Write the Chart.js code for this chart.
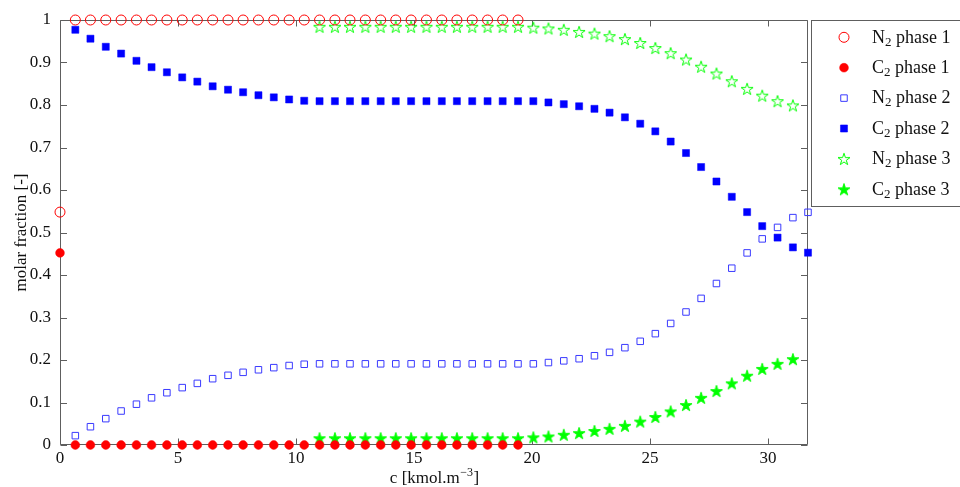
<!DOCTYPE html>
<html>
<head>
<meta charset="utf-8">
<script src="https://cdn.jsdelivr.net/npm/chart.js@4/dist/chart.umd.min.js"></script>
<style>
  html, body { margin: 0; padding: 0; background: #ffffff; }
  #wrap { width: 960px; height: 487px; position: relative; }
</style>
</head>
<body>
<div id="wrap"><canvas id="chart" width="960" height="487"></canvas></div>
<script>
// Total concentration c [kmol/m3] at each computed state
const conc = [0, 0.65, 1.29, 1.94, 2.59, 3.24, 3.88, 4.53, 5.18, 5.82,
  6.47, 7.12, 7.76, 8.41, 9.06, 9.71, 10.35, 11.0, 11.65, 12.29,
  12.94, 13.59, 14.23, 14.88, 15.53, 16.18, 16.82, 17.47, 18.12, 18.76,
  19.41, 20.06, 20.7, 21.35, 22.0, 22.65, 23.29, 23.94, 24.59, 25.23,
  25.88, 26.53, 27.17, 27.82, 28.47, 29.12, 29.76, 30.41, 31.06, 31.7];

const seriesLabels = ['N₂ phase 1', 'C₂ phase 1', 'N₂ phase 2', 'C₂ phase 2', 'N₂ phase 3', 'C₂ phase 3'];

// Molar fractions per phase (null where the phase does not exist)
const n2Phase1 = [0.548, 1, 1, 1, 1, 1, 1, 1, 1, 1,
  1, 1, 1, 1, 1, 1, 1, 1, 1, 1,
  1, 1, 1, 1, 1, 1, 1, 1, 1, 1,
  1, null, null, null, null, null, null, null, null, null,
  null, null, null, null, null, null, null, null, null, null];
const c2Phase1 = [0.452, 0, 0, 0, 0, 0, 0, 0, 0, 0,
  0, 0, 0, 0, 0, 0, 0, 0, 0, 0,
  0, 0, 0, 0, 0, 0, 0, 0, 0, 0,
  0, null, null, null, null, null, null, null, null, null,
  null, null, null, null, null, null, null, null, null, null];
const n2Phase2 = [null, 0.022, 0.043, 0.062, 0.080, 0.096, 0.111, 0.123, 0.135, 0.145,
  0.156, 0.164, 0.171, 0.177, 0.182, 0.187, 0.190, 0.191, 0.191, 0.191,
  0.191, 0.191, 0.191, 0.191, 0.191, 0.191, 0.191, 0.191, 0.191, 0.191,
  0.191, 0.191, 0.194, 0.198, 0.203, 0.210, 0.218, 0.229, 0.244, 0.262,
  0.286, 0.313, 0.345, 0.380, 0.416, 0.452, 0.485, 0.512, 0.535, 0.5475];
const c2Phase2 = [null, 0.977, 0.956, 0.937, 0.921, 0.904, 0.889, 0.877, 0.865, 0.855,
  0.844, 0.836, 0.830, 0.823, 0.818, 0.813, 0.810, 0.809, 0.809, 0.809,
  0.809, 0.809, 0.809, 0.809, 0.809, 0.809, 0.809, 0.809, 0.809, 0.809,
  0.809, 0.809, 0.806, 0.802, 0.797, 0.791, 0.782, 0.771, 0.756, 0.738,
  0.714, 0.687, 0.654, 0.620, 0.584, 0.548, 0.515, 0.488, 0.465, 0.4525];
const n2Phase3 = [null, null, null, null, null, null, null, null, null, null,
  null, null, null, null, null, null, null, 0.984, 0.984, 0.984,
  0.984, 0.984, 0.984, 0.984, 0.984, 0.984, 0.984, 0.984, 0.984, 0.984,
  0.984, 0.982, 0.980, 0.977, 0.972, 0.968, 0.962, 0.955, 0.946, 0.934,
  0.922, 0.907, 0.890, 0.874, 0.856, 0.838, 0.822, 0.809, 0.799, null];
const c2Phase3 = [null, null, null, null, null, null, null, null, null, null,
  null, null, null, null, null, null, null, 0.016, 0.016, 0.016,
  0.016, 0.016, 0.016, 0.016, 0.016, 0.016, 0.016, 0.016, 0.016, 0.016,
  0.016, 0.018, 0.020, 0.024, 0.028, 0.033, 0.038, 0.045, 0.055, 0.066,
  0.079, 0.094, 0.111, 0.127, 0.145, 0.163, 0.179, 0.191, 0.202, null];

const xTicks = [0, 5, 10, 15, 20, 25, 30];
const yTicks = [0, 0.1, 0.2, 0.3, 0.4, 0.5, 0.6, 0.7, 0.8, 0.9, 1];

const SERIF = '"Liberation Serif", "DejaVu Serif", serif';
const FRAME = '#5e5e5e';
const RED = '#ff0000', BLUE = '#0000ff', GREEN = '#00ff00';

// Five-pointed star markers (outline and filled)
function starMarker(filled) {
  const s = 16;
  const cv = document.createElement('canvas');
  cv.width = s; cv.height = s;
  const g = cv.getContext('2d');
  const R = 6.3, r = R * 0.382, cx = s / 2, cy = s / 2 + 0.6;
  g.beginPath();
  for (let i = 0; i < 10; i++) {
    const a = -Math.PI / 2 + i * Math.PI / 5;
    const rad = i % 2 ? r : R;
    g.lineTo(cx + rad * Math.cos(a), cy + rad * Math.sin(a));
  }
  g.closePath();
  g.strokeStyle = GREEN;
  g.lineWidth = 1;
  if (filled) { g.fillStyle = GREEN; g.fill(); }
  g.stroke();
  return cv;
}

function points(values) {
  const out = [];
  values.forEach((v, i) => { if (v !== null) out.push({ x: conc[i], y: v }); });
  return out;
}

const markerStyles = [
  { pointStyle: 'circle', pointRadius: 5, borderColor: RED, backgroundColor: 'rgba(0,0,0,0)', borderWidth: 1 },
  { pointStyle: 'circle', pointRadius: 4.4, borderColor: RED, backgroundColor: RED, borderWidth: 0.5 },
  { pointStyle: 'rect', pointRadius: 4.6, borderColor: '#3a3aff', backgroundColor: 'rgba(0,0,0,0)', borderWidth: 1 },
  { pointStyle: 'rect', pointRadius: 5, borderColor: BLUE, backgroundColor: BLUE, borderWidth: 0.5 },
  { pointStyle: starMarker(false), pointRadius: 6, borderColor: GREEN, backgroundColor: 'rgba(0,0,0,0)', borderWidth: 0 },
  { pointStyle: starMarker(true), pointRadius: 6, borderColor: GREEN, backgroundColor: GREEN, borderWidth: 0 }
];

const seriesValues = [n2Phase1, c2Phase1, n2Phase2, c2Phase2, n2Phase3, c2Phase3];

const datasets = seriesValues.map((vals, i) => Object.assign({
  label: seriesLabels[i],
  data: points(vals),
  showLine: false,
  clip: false,
  pointHoverRadius: markerStyles[i].pointRadius
}, markerStyles[i]));

// Draws "X₂ rest" with a lowered, smaller subscript
function drawSubscripted(ctx, text, x, y, size, align) {
  const parts = text.split('₂');
  ctx.textBaseline = 'alphabetic';
  ctx.textAlign = 'left';
  const big = size + 'px ' + SERIF, small = Math.round(size * 0.7) + 'px ' + SERIF;
  ctx.font = big; const w1 = ctx.measureText(parts[0]).width;
  const w3 = parts.length > 1 ? ctx.measureText(parts[1]).width : 0;
  ctx.font = small; const w2 = parts.length > 1 ? ctx.measureText('2').width : 0;
  let x0 = x;
  if (align === 'center') x0 = x - (w1 + w2 + w3) / 2;
  ctx.font = big; ctx.fillText(parts[0], x0, y);
  if (parts.length > 1) {
    ctx.font = small; ctx.fillText('2', x0 + w1, y + 3);
    ctx.font = big; ctx.fillText(parts[1], x0 + w1 + w2, y);
  }
}

// Box frame with inward tick marks on all four sides
const frameAndTicks = {
  id: 'frameAndTicks',
  beforeDatasetsDraw(chart) {
    const { ctx, chartArea: a, scales } = chart;
    const L = Math.round(a.left) + 0.5, R = Math.round(a.right) - 0.5;
    const T = Math.round(a.top) + 0.5, B = Math.round(a.bottom) - 0.5;
    ctx.save();
    ctx.strokeStyle = FRAME;
    ctx.lineWidth = 1;
    ctx.beginPath();
    ctx.rect(L, T, R - L, B - T);
    xTicks.forEach(v => {
      const px = Math.round(scales.x.getPixelForValue(v)) + 0.5;
      ctx.moveTo(px, B); ctx.lineTo(px, B - 6);
      ctx.moveTo(px, T); ctx.lineTo(px, T + 6);
    });
    yTicks.forEach(v => {
      const py = Math.round(scales.y.getPixelForValue(v)) + 0.5;
      ctx.moveTo(L, py); ctx.lineTo(L + 6.5, py);
      ctx.moveTo(R, py); ctx.lineTo(R - 6.5, py);
    });
    ctx.stroke();
    ctx.restore();
  },
  afterDraw(chart) {
    const { ctx, chartArea: a } = chart;
    ctx.save();
    ctx.fillStyle = '#111111';
    // x axis title with superscript exponent
    const size = 17;
    const main = 'c [kmol.m', sup = '−3', tail = ']';
    ctx.font = size + 'px ' + SERIF;
    const w1 = ctx.measureText(main).width, w3 = ctx.measureText(tail).width;
    ctx.font = '12px ' + SERIF;
    const w2 = ctx.measureText(sup).width;
    let x0 = (a.left + a.right) / 2 - (w1 + w2 + w3) / 2;
    const base = 483;
    ctx.textBaseline = 'alphabetic'; ctx.textAlign = 'left';
    ctx.font = size + 'px ' + SERIF; ctx.fillText(main, x0, base);
    ctx.font = '12px ' + SERIF; ctx.fillText(sup, x0 + w1 + 0.5, base - 7);
    ctx.font = size + 'px ' + SERIF; ctx.fillText(tail, x0 + w1 + w2 + 1, base);
    // y axis title
    ctx.translate(25.5, (a.top + a.bottom) / 2);
    ctx.rotate(-Math.PI / 2);
    ctx.textAlign = 'center';
    ctx.fillText('molar fraction [-]', 0, 0);
    ctx.restore();

    // legend box
    ctx.save();
    ctx.strokeStyle = FRAME;
    ctx.lineWidth = 1;
    ctx.fillStyle = '#ffffff';
    ctx.fillRect(812, 21, 148, 186);
    ctx.strokeRect(811.5, 20.5, 160, 186);
    chart.data.datasets.forEach((ds, i) => {
      const cy = 37.3 + i * 30.4;
      ctx.fillStyle = ds.backgroundColor;
      ctx.strokeStyle = ds.borderColor;
      ctx.lineWidth = ds.borderWidth;
      Chart.helpers.drawPoint(ctx, {
        pointStyle: ds.pointStyle,
        radius: ds.pointRadius,
        rotation: 0,
        borderWidth: ds.borderWidth
      }, 844, cy);
      ctx.fillStyle = '#111111';
      drawSubscripted(ctx, ds.label, 872, cy + 5.3, 18, 'left');
    });
    ctx.restore();
  }
};

Chart.defaults.font.family = SERIF;

new Chart(document.getElementById('chart'), {
  type: 'scatter',
  data: { datasets },
  options: {
    responsive: false,
    animation: false,
    events: [],
    layout: { padding: { left: 0, right: 152, top: 20, bottom: 0 } },
    plugins: { legend: { display: false }, tooltip: { enabled: false } },
    scales: {
      x: {
        type: 'linear',
        min: 0,
        max: 31.7,
        afterBuildTicks: s => { s.ticks = xTicks.map(v => ({ value: v })); },
        afterFit: s => { s.height = 42; },
        grid: { display: false, drawTicks: false },
        border: { display: false },
        ticks: {
          font: { family: SERIF, size: 17 },
          color: '#111111',
          padding: 3,
          maxRotation: 0,
          autoSkip: false,
          callback: v => String(v)
        }
      },
      y: {
        type: 'linear',
        min: 0,
        max: 1,
        afterBuildTicks: s => { s.ticks = yTicks.map(v => ({ value: v })); },
        afterFit: s => { s.width = 60; },
        grid: { display: false, drawTicks: false },
        border: { display: false },
        ticks: {
          font: { family: SERIF, size: 17 },
          color: '#111111',
          padding: 9,
          autoSkip: false,
          callback: v => String(Math.round(v * 10) / 10)
        }
      }
    }
  },
  plugins: [frameAndTicks]
});
</script>
</body>
</html>
